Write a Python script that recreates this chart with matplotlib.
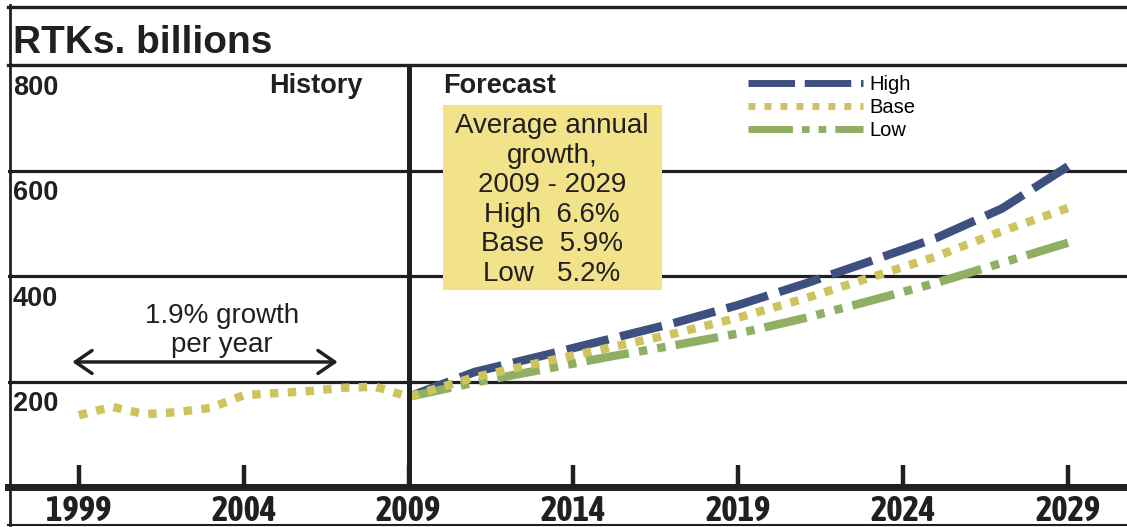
import matplotlib
matplotlib.use("Agg")
import matplotlib.pyplot as plt
from matplotlib import font_manager
from matplotlib.lines import Line2D
from matplotlib.patches import Rectangle

# Traffic in billions of revenue tonne-km
hist_years = [1999, 2000, 2001, 2002, 2003, 2004, 2005, 2006, 2007, 2008, 2009]
hist_rtk = [136, 152, 138, 142, 150, 174, 178, 182, 188, 190, 171]

fc_years = [2009, 2011, 2013, 2015, 2017, 2019, 2021, 2023, 2025, 2027, 2029]
high_rtk = [171, 218, 248, 279, 310, 345, 385, 428, 472, 528, 608]
base_rtk = [171, 208, 236, 263, 290, 321, 357, 397, 437, 485, 529]
low_rtk = [171, 198, 222, 246, 268, 291, 320, 353, 387, 425, 463]

x_ticks = [1999, 2004, 2009, 2014, 2019, 2024, 2029]
y_levels = [200, 400, 600, 800]
box_lines = ["Average annual", "growth,", "2009 - 2029",
             "High  6.6%", "Base  5.9%", "Low   5.2%"]

INK = "#231f20"
HIGH_C = "#3e5080"
BASE_C = "#cdc45e"
LOW_C = "#8fb064"
BOX_C = "#f2e38b"

# year labels use a condensed bold face when one is installed
cond = {f.name for f in font_manager.fontManager.ttflist
        if f.stretch == "condensed" and f.weight in (700, "bold")}
preferred = [n for n in ("Liberation Sans Narrow", "Noto Sans", "Open Sans",
                         "Roboto", "Noto Sans Condensed") if n in cond]
picked = preferred[0] if preferred else (sorted(cond)[0] if cond else None)
if picked:
    tick_font = dict(family=picked, fontstretch="condensed", fontsize=25)
else:
    tick_font = dict(family="Liberation Sans", fontsize=22)

W, H = 1127, 527
fig = plt.figure(figsize=(W / 100, H / 100), dpi=100)
fig.patch.set_facecolor("white")

# outer frame of the panel
fig.add_artist(Line2D([8 / W, 1], [1 - 6.5 / H] * 2, color=INK, lw=2.4,
                      transform=fig.transFigure))
fig.add_artist(Line2D([9.5 / W] * 2, [2 / H, 1 - 5 / H], color=INK, lw=2.0,
                      transform=fig.transFigure))
fig.add_artist(Line2D([8 / W, 1], [2 / H] * 2, color=INK, lw=1.5,
                      transform=fig.transFigure))

fig.text(13 / W, 1 - 53 / H, "RTKs. billions", fontsize=28,
         fontweight="bold", color=INK, family="Liberation Sans",
         va="baseline", ha="left")

ax = fig.add_axes([8 / W, 40 / H, (W - 8) / W, 422 / H])
ax.set_xlim(1996.85, 2030.79)
ax.set_ylim(0, 800)
ax.set_facecolor("none")

for side in ["left", "right"]:
    ax.spines[side].set_visible(False)
ax.spines["top"].set_linewidth(2.4)
ax.spines["top"].set_color(INK)
ax.spines["bottom"].set_linewidth(5)
ax.spines["bottom"].set_color(INK)

for v in y_levels[:-1]:
    ax.axhline(v, color=INK, lw=2.3, zorder=1)
for v in y_levels:
    ax.text(1997.0, v - 56, str(v), fontsize=19.5, fontweight="bold",
            color=INK, family="Liberation Sans", va="baseline", ha="left")

ax.axvline(2009, color=INK, lw=3.6, zorder=6)

ax.set_yticks([])
ax.set_xticks(x_ticks)
ax.set_xticklabels([str(t) for t in x_ticks], fontweight="bold", color=INK,
                   **tick_font)
ax.tick_params(axis="x", direction="in", length=15.8, width=3.2,
               color=INK, pad=5)

# forecast scenarios, base drawn last so it sits on top
lw = 6.1
ax.plot(fc_years, high_rtk, color=HIGH_C, lw=lw, dashes=(5.1, 1.4), zorder=3)
ax.plot(fc_years, low_rtk, color=LOW_C, lw=lw,
        dashes=(5.1, 1.2, 1.0, 1.2, 1.0, 1.2), zorder=4)
ax.plot(hist_years + fc_years[1:], hist_rtk + base_rtk[1:], color=BASE_C,
        lw=lw, dashes=(1.0, 1.1), zorder=5)

ax.text(2007.61, 747, "History", fontsize=19.5, fontweight="bold",
        color=INK, family="Liberation Sans", va="baseline", ha="right")
ax.text(2010.04, 747, "Forecast", fontsize=19.5, fontweight="bold",
        color=INK, family="Liberation Sans", va="baseline", ha="left")

# growth summary box
ax.add_patch(Rectangle((2010.04, 373), 6.64, 351, facecolor=BOX_C,
                       edgecolor="none", zorder=2))
for i, line in enumerate(box_lines):
    ax.text(2013.35, 671 - i * 56, line, fontsize=20, color=INK,
            family="Liberation Sans", va="baseline", ha="center", zorder=7)

ax.annotate("", xy=(1998.8, 237), xytext=(2006.85, 237),
            arrowprops=dict(arrowstyle="<->,head_length=0.8,head_width=0.55",
                            color=INK, lw=2.5, mutation_scale=15,
                            shrinkA=0, shrinkB=0))
ax.text(2003.34, 311, "1.9% growth", fontsize=20, color=INK,
        family="Liberation Sans", va="baseline", ha="center")
ax.text(2003.34, 256, "per year", fontsize=20, color=INK,
        family="Liberation Sans", va="baseline", ha="center")

handles = [
    Line2D([], [], color=HIGH_C, lw=5, dashes=(6.7, 1.4)),
    Line2D([], [], color=BASE_C, lw=5, dashes=(1.0, 1.3)),
    Line2D([], [], color=LOW_C, lw=5, dashes=(6.4, 1.3, 1.1, 1.3, 1.1, 1.3)),
]
ax.legend(handles, ["High", "Base", "Low"], loc="upper left",
          bbox_to_anchor=(748 / W, 1 - 75 / H), bbox_transform=fig.transFigure,
          frameon=False, borderpad=0, borderaxespad=0, handlelength=5.7,
          handletextpad=0.35, labelspacing=0.2,
          prop={"family": "Liberation Sans", "size": 14.5})

fig.savefig("out.png", dpi=100)
